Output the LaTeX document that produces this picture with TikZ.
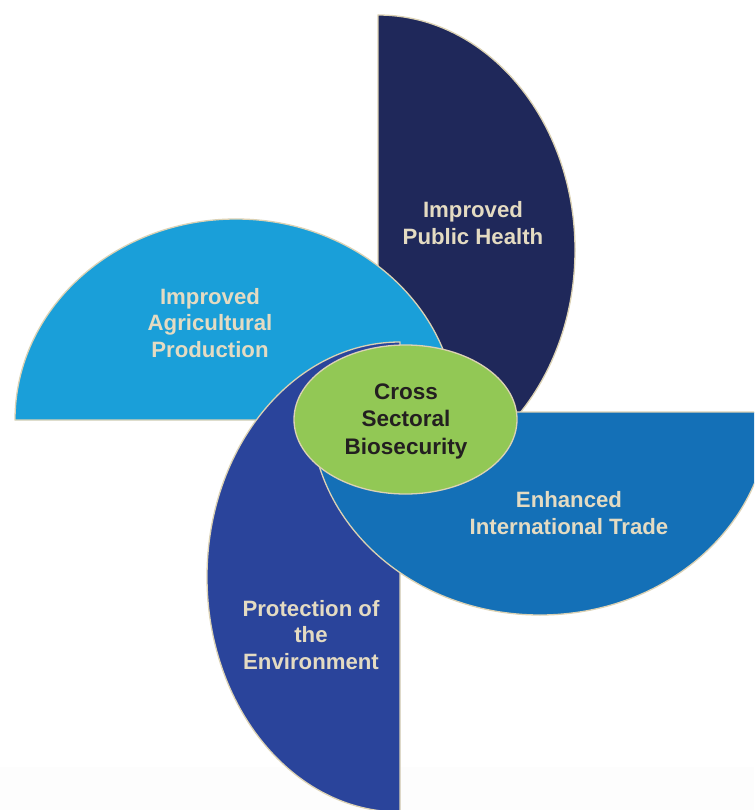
\documentclass[tikz,border=0pt]{standalone}
\usepackage{fontspec}
\setmainfont{Liberation Sans}
\usetikzlibrary{shapes.geometric}
\definecolor{navyc}{RGB}{31,40,90}
\definecolor{lightbluec}{RGB}{26,159,217}
\definecolor{rightbluec}{RGB}{20,112,183}
\definecolor{botbluec}{RGB}{42,68,155}
\definecolor{greenc}{RGB}{146,200,85}
\definecolor{beigetext}{RGB}{228,219,194}
\definecolor{edgec}{RGB}{220,210,180}
\definecolor{darktext}{RGB}{35,31,32}
\definecolor{stripc}{RGB}{253,253,253}
\tikzset{
  petal/.style={draw=edgec, line width=1.3pt, line join=round},
  petaltext/.style={text=beigetext, align=center, font=\fontsize{22.2}{26.5}\selectfont\bfseries, inner sep=0pt},
  hubtext/.style={text=darktext, align=center, font=\fontsize{22.5}{27.5}\selectfont\bfseries}
}
\begin{document}
\begin{tikzpicture}[x=1pt, y=-1pt]
\useasboundingbox (0,0) rectangle (754,810);
\clip (0,0) rectangle (754,810);
\fill[white] (0,0) rectangle (754,810);
\fill[stripc] (0,767) rectangle (754,810);
% top petal (navy)
\path[petal, fill=navyc] (378,15) arc[start angle=-90, end angle=90, x radius=197, y radius=235] -- cycle;
% left petal (light blue)
\path[petal, fill=lightbluec] (15,420) arc[start angle=180, end angle=360, x radius=221, y radius=201] -- cycle;
% bottom petal
\path[petal, fill=botbluec] (400,342) arc[start angle=-90, end angle=-270, x radius=193, y radius=235] -- cycle;
% right petal
\path[petal, fill=rightbluec] (769,412) arc[start angle=0, end angle=180, x radius=229, y radius=203] -- cycle;
% hub
\node[ellipse, draw=edgec, line width=1.3pt, fill=greenc, minimum width=223pt, minimum height=149pt, inner sep=0pt] (hub) at (405.5,419.5) {};
\node[hubtext] (hubt) at (406,421) {Cross\\Sectoral\\Biosecurity};
\node[petaltext] (health) at (473,223) {Improved\\Public Health};
\node[petaltext] (agri) at (210,323) {Improved\\Agricultural\\Production};
\node[petaltext] (trade) at (569,513) {Enhanced\\International Trade};
\node[petaltext] (env) at (311,635) {Protection of\\the\\Environment};
\end{tikzpicture}
\end{document}
